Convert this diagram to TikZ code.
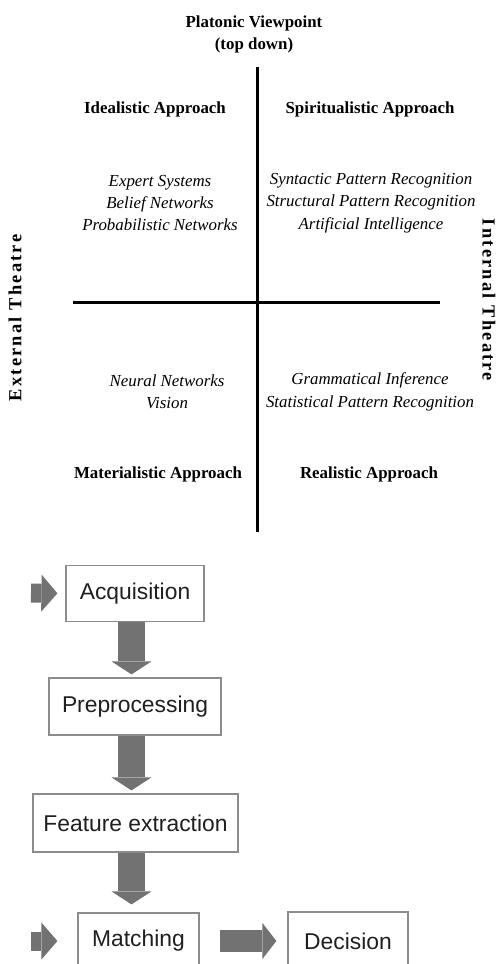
\documentclass[tikz,border=0pt]{standalone}
\usepackage{fontspec}
\setmainfont{Liberation Serif}
\newfontfamily\flowfont{Liberation Sans}
\newfontfamily\sidefont[LetterSpace=12]{Liberation Serif}
\usepackage{tikz}
\usetikzlibrary{arrows.meta}

\definecolor{arrowgray}{HTML}{727272}
\definecolor{boxgray}{HTML}{8C8C8C}

\tikzset{
	head/.style={font=\fontsize{9.6}{12.5}\selectfont\bfseries, align=center},
	field/.style={font=\fontsize{9.6}{12.75}\selectfont\itshape, align=center},
	side/.style={font=\fontsize{10.5}{12}\sidefont\bfseries},
	stage/.style={draw=boxgray, line width=0.7pt, text=black!88, inner sep=0pt,
		font=\fontsize{13}{15}\flowfont},
	downarrow/.style={color=arrowgray, line width=0.54cm,
		-{Triangle[width=0.8cm,length=0.26cm,line width=0pt]}},
	inarrow/.style={color=arrowgray, line width=0.38cm,
		-{Triangle[width=0.74cm,length=0.32cm,line width=0pt]}},
	outarrow/.style={color=arrowgray, line width=0.44cm,
		-{Triangle[width=0.72cm,length=0.28cm,line width=0pt]}}
}

\begin{document}
\begin{tikzpicture}[x=0.02cm,y=-0.02cm]
		\useasboundingbox (0,0) rectangle (499,964);
		\clip (0,0) rectangle (499,964);
		%
		% the four approaches
		\coordinate (top) at (257,67);
		\coordinate (bottom) at (257,532);
		\coordinate (left) at (73,302);
		\coordinate (right) at (440,302);
		\draw[line width=0.06cm] (top) -- (bottom);
		\draw[line width=0.06cm] (left) -- (right);
		%
		\node[head] (plato) at (254,34) {Platonic Viewpoint\\(top down)};
		\node[head] (ideal) at (155,109) {Idealistic Approach};
		\node[head] (spirit) at (370,109) {Spiritualistic Approach};
		\node[head] (mater) at (158,474) {Materialistic Approach};
		\node[head] (real) at (369,474) {Realistic Approach};
		%
		\node[field] (idealf) at (160,203) {Expert Systems\\Belief Networks\\Probabilistic Networks};
		\node[field] (spiritf) at (371,203) {Syntactic Pattern Recognition\\Structural Pattern Recognition\\Artificial Intelligence};
		\node[field] (materf) at (167,392) {Neural Networks\\Vision};
		\node[field] (realf) at (370,392) {Grammatical Inference\\Statistical Pattern Recognition};
		%
		\node[side, rotate=90] (ext) at (15,318) {External Theatre};
		\node[side, rotate=-90] (int) at (489,300) {Internal Theatre};
		%
		% recognition pipeline
		\node[stage, minimum width=2.76cm, minimum height=1.12cm] (acq) at (135,593.5) {Acquisition};
		\node[stage, minimum width=3.44cm, minimum height=1.14cm] (pre) at (135,706.5) {Preprocessing};
		\node[stage, minimum width=4.1cm, minimum height=1.16cm] (feat) at (135.5,823) {Feature extraction};
		\node[stage, minimum width=2.42cm, minimum height=1.12cm] (match) at (138.5,941) {Matching};
		\node[stage, minimum width=2.4cm, minimum height=1.16cm] (dec) at (348,941) {Decision};
		%
		\coordinate (spine) at (131.5,0);
		\coordinate (in1) at (31,593);
		\coordinate (in2) at (31,941);
		%
		\draw[downarrow, shorten >=0.06cm] (acq.south -| spine) -- (pre.north -| spine);
		\draw[downarrow, shorten >=0.06cm] (pre.south -| spine) -- (feat.north -| spine);
		\draw[downarrow, shorten >=0.16cm] (feat.south -| spine) -- (match.north -| spine);
		\draw[inarrow, shorten >=0.16cm] (in1) -- (acq.west);
		\draw[inarrow, shorten >=0.4cm] (in2) -- (match.west);
		\draw[outarrow, shorten <=0.4cm, shorten >=0.22cm] (match.east) -- (dec.west);
	\end{tikzpicture}
\end{document}
